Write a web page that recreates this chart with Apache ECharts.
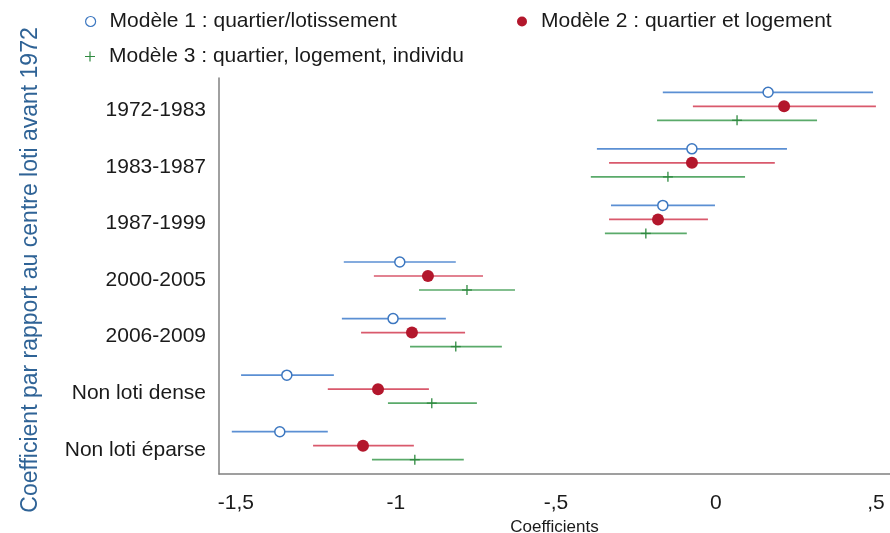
<!DOCTYPE html>
<html>
<head>
<meta charset="utf-8">
<script src="https://cdn.jsdelivr.net/npm/echarts@6/dist/echarts.min.js"></script>
<style>
html,body{margin:0;padding:0;background:#fff;}
#chart{width:890px;height:533px;}
</style>
</head>
<body>
<div id="chart"></div>
<script>
const categories = ['1972-1983','1983-1987','1987-1999','2000-2005','2006-2009','Non loti dense','Non loti éparse'];
const tickValues = [-1.5, -1, -0.5, 0, 0.5];
const tickLabels = ['-1,5', '-1', '-,5', '0', ',5'];

const seriesNames = ['Modèle 1 : quartier/lotissement', 'Modèle 2 : quartier et logement', 'Modèle 3 : quartier, logement, individu'];
const yTitle = 'Coefficient par rapport au centre loti avant 1972';
const xTitle = 'Coefficients';

const m1Coef = [0.163, -0.075, -0.166, -0.988, -1.009, -1.341, -1.363];
const m1Low  = [-0.166, -0.372, -0.328, -1.163, -1.169, -1.484, -1.513];
const m1High = [0.491, 0.222, -0.003, -0.813, -0.844, -1.194, -1.213];

const m2Coef = [0.213, -0.075, -0.181, -0.900, -0.950, -1.056, -1.103];
const m2Low  = [-0.072, -0.334, -0.334, -1.069, -1.109, -1.213, -1.259];
const m2High = [0.500, 0.184, -0.025, -0.728, -0.784, -0.897, -0.944];

const m3Coef = [0.066, -0.150, -0.219, -0.778, -0.813, -0.888, -0.941];
const m3Low  = [-0.184, -0.391, -0.347, -0.928, -0.956, -1.025, -1.075];
const m3High = [0.316, 0.091, -0.091, -0.628, -0.669, -0.747, -0.788];

const FONT = "'Liberation Sans', Arial, Helvetica, sans-serif";

const styles = [
  {offset: -14, line: '#5b8fd3', marker: '#3c77c0', kind: 'hollow'},
  {offset: 0,   line: '#d9596c', marker: '#b3172c', kind: 'dot'},
  {offset: 14,  line: '#5aaa6a', marker: '#2f8a40', kind: 'plus'}
];

function buildData(coef, low, high) {
  return coef.map((c, i) => [c, i, low[i], high[i]]);
}

function makeSeries(idx, coef, low, high) {
  const st = styles[idx];
  return {
    type: 'custom',
    name: seriesNames[idx],
    data: buildData(coef, low, high),
    encode: {x: [0, 2, 3], y: 1},
    renderItem: function (params, api) {
      const p = api.coord([api.value(0), api.value(1)]);
      const pl = api.coord([api.value(2), api.value(1)]);
      const ph = api.coord([api.value(3), api.value(1)]);
      const y = p[1] + st.offset;
      const children = [{
        type: 'line',
        shape: {x1: pl[0], y1: y, x2: ph[0], y2: y},
        style: {stroke: st.line, lineWidth: 1.7}
      }];
      if (st.kind === 'hollow') {
        children.push({type: 'circle', shape: {cx: p[0], cy: y, r: 5}, style: {fill: '#fff', stroke: st.marker, lineWidth: 1.5}});
      } else if (st.kind === 'dot') {
        children.push({type: 'circle', shape: {cx: p[0], cy: y, r: 6}, style: {fill: st.marker}});
      } else {
        children.push({type: 'line', shape: {x1: p[0], y1: y - 5, x2: p[0], y2: y + 5}, style: {stroke: st.marker, lineWidth: 1.3}});
        children.push({type: 'line', shape: {x1: p[0] - 5, y1: y, x2: p[0] + 5, y2: y}, style: {stroke: st.marker, lineWidth: 1.3}});
      }
      return {type: 'group', children: children};
    }
  };
}

const legendText = {fontFamily: FONT, fontSize: 21, color: '#1a1a1a', padding: [0, 0, 0, 9]};

const option = {
  backgroundColor: '#fff',
  animation: false,
  textStyle: {fontFamily: FONT},
  legend: [
    {left: 80, top: 6, itemWidth: 10, itemHeight: 10, textStyle: legendText, selectedMode: false,
     data: [{name: seriesNames[0], icon: 'circle', itemStyle: {color: '#fff', borderColor: '#3c77c0', borderWidth: 1.2}}]},
    {left: 512, top: 6, itemWidth: 10, itemHeight: 10, textStyle: legendText, selectedMode: false,
     data: [{name: seriesNames[1], icon: 'circle', itemStyle: {color: '#b3172c'}}]},
    {left: 80, top: 41, itemWidth: 10, itemHeight: 10, textStyle: legendText, selectedMode: false,
     data: [{name: seriesNames[2], icon: 'path://M4.4,0 L5.6,0 L5.6,4.4 L10,4.4 L10,5.6 L5.6,5.6 L5.6,10 L4.4,10 L4.4,5.6 L0,5.6 L0,4.4 L4.4,4.4 Z', itemStyle: {color: '#2f8a40'}}]}
  ],
  graphic: [{
    type: 'text',
    x: 31,
    y: 270,
    rotation: Math.PI / 2,
    style: {
      text: yTitle,
      fontFamily: FONT,
      fontSize: 23,
      fill: '#2f6396',
      align: 'center',
      verticalAlign: 'middle'
    }
  }],
  grid: {left: 219, top: 78, right: 0, bottom: 59, containLabel: false, outerBoundsMode: 'none'},
  xAxis: {
    type: 'value',
    min: -1.553,
    max: 0.544,
    name: xTitle,
    nameLocation: 'middle',
    nameGap: 43,
    nameTextStyle: {fontFamily: FONT, fontSize: 17, color: '#1a1a1a'},
    axisLine: {show: true, onZero: false, lineStyle: {color: '#808080', width: 1.5}},
    axisTick: {show: false},
    splitLine: {show: false},
    axisLabel: {
      customValues: tickValues,
      margin: 19,
      fontFamily: FONT, fontSize: 21, color: '#1a1a1a',
      formatter: function (v) {
        const i = tickValues.findIndex(t => Math.abs(t - v) < 1e-9);
        return i >= 0 ? tickLabels[i] : '';
      }
    }
  },
  yAxis: {
    type: 'category',
    data: categories,
    inverse: true,
    boundaryGap: true,
    axisLine: {show: true, onZero: false, lineStyle: {color: '#808080', width: 1.5}},
    axisTick: {show: false},
    splitLine: {show: false},
    axisLabel: {margin: 13, fontFamily: FONT, fontSize: 21, color: '#1a1a1a', verticalAlign: 'top', lineHeight: 8}
  },
  series: [
    makeSeries(0, m1Coef, m1Low, m1High),
    makeSeries(1, m2Coef, m2Low, m2High),
    makeSeries(2, m3Coef, m3Low, m3High)
  ]
};

const chart = echarts.init(document.getElementById('chart'), null, {renderer: 'canvas'});
chart.setOption(option);
</script>
</body>
</html>
